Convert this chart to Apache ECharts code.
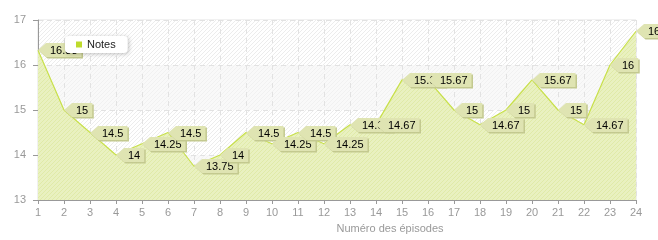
<!DOCTYPE html>
<html><head><meta charset="utf-8">
<script src="https://cdn.jsdelivr.net/npm/echarts@6/dist/echarts.min.js"></script>
<style>html,body{margin:0;padding:0;background:#fff}#c{width:658px;height:240px}</style>
</head><body><div id="c"></div>
<script>
const categories = ['1','2','3','4','5','6','7','8','9','10','11','12','13','14','15','16','17','18','19','20','21','22','23','24'];
const notes = [16.33, 15, 14.5, 14, 14.25, 14.5, 13.75, 14, 14.5, 14.25, 14.5, 14.25, 14.67, 14.67, 15.67, 15.67, 15, 14.67, 15, 15.67, 15, 14.67, 16, 16.75];
const seriesName = 'Notes';
const xName = 'Numéro des épisodes';
const yTicks = [13, 14, 15, 16, 17];

const FONT = '11px "Liberation Sans", Arial, sans-serif';

function hatch(bg, line) {
  const c = document.createElement('canvas');
  c.width = 4; c.height = 4;
  const g = c.getContext('2d');
  g.fillStyle = bg; g.fillRect(0, 0, 4, 4);
  g.strokeStyle = line; g.lineWidth = 1;
  g.beginPath();
  g.moveTo(0, 4); g.lineTo(4, 0);
  g.moveTo(-1, 1); g.lineTo(1, -1);
  g.moveTo(3, 5); g.lineTo(5, 3);
  g.stroke();
  return { image: c, repeat: 'repeat' };
}
const bandA = hatch('#ffffff', '#ececec');
const bandB = hatch('#f9f9f9', '#f1f1f1');
const areaFill = hatch('#e9f1c0', '#e0eaa8');

const mctx = document.createElement('canvas').getContext('2d');
mctx.font = FONT;

const chart = echarts.init(document.getElementById('c'), null, { renderer: 'canvas' });
chart.setOption({
  animation: false,
  grid: { left: 38, right: 22, top: 20, bottom: 40, show: true, borderColor: '#e2e2e2', borderWidth: 1, backgroundColor: 'transparent' },
  legend: {
    data: [seriesName], left: 65, top: 36, padding: [3, 12, 3, 11],
    backgroundColor: '#fff', borderRadius: 4, shadowBlur: 4, shadowColor: 'rgba(0,0,0,0.25)', shadowOffsetX: 1, shadowOffsetY: 1,
    itemWidth: 6, itemHeight: 6, icon: 'rect', itemGap: 5,
    textStyle: { fontFamily: '"Liberation Sans", Arial, sans-serif', fontSize: 11, color: '#222' }, z: 10
  },
  xAxis: {
    type: 'category', data: categories, boundaryGap: false,
    name: xName, nameLocation: 'middle', nameGap: 23,
    nameTextStyle: { color: '#999', fontFamily: '"Liberation Sans", Arial, sans-serif', fontSize: 11, padding: [0, 0, 0, 106] },
    axisLine: { lineStyle: { color: '#999' } },
    axisTick: { show: true, length: 4, lineStyle: { color: '#999' }, alignWithLabel: true },
    axisLabel: { color: '#999', fontFamily: '"Liberation Sans", Arial, sans-serif', fontSize: 11, margin: 7 },
    splitLine: { show: true, lineStyle: { color: '#e2e2e2', type: [5, 4] } }
  },
  yAxis: {
    type: 'value', min: yTicks[0], max: yTicks[yTicks.length - 1], interval: 1,
    axisLine: { show: true, lineStyle: { color: '#999' } },
    axisTick: { show: true, length: 5, lineStyle: { color: '#999' } },
    axisLabel: { color: '#999', fontFamily: '"Liberation Sans", Arial, sans-serif', fontSize: 11, margin: 12 },
    splitLine: { show: true, lineStyle: { color: '#e2e2e2', type: [5, 4] } },
    splitArea: { show: true, areaStyle: { color: [bandB, bandA, bandB, bandA] } }
  },
  series: [
    {
      name: seriesName, type: 'line', data: notes, symbol: 'none',
      color: '#bedb2c',
      lineStyle: { color: '#c8e04a', width: 1.2 },
      areaStyle: { color: areaFill, opacity: 1, origin: 'start' },
      z: 2
    },
    {
      name: 'labels', type: 'custom', clip: false, z: 5,
      data: notes.map((v, i) => [i, v]),
      encode: { x: 0, y: 1 },
      renderItem: function (params, api) {
        const i = api.value(0), v = api.value(1);
        const p = api.coord([i, v]);
        const txt = String(v);
        const tw = mctx.measureText(txt).width;
        const aw = 8, h = 14, padL = 4, padR = 4;
        const x0 = Math.round(p[0]), y0 = Math.round(p[1]);
        const bx = x0 + aw, bw = tw + padL + padR;
        const pts = [[x0, y0], [bx, y0 - h / 2], [bx + bw, y0 - h / 2], [bx + bw, y0 + h / 2], [bx, y0 + h / 2]];
        return {
          type: 'group',
          children: [
            { type: 'polygon', shape: { points: pts.map(q => [q[0] + 1.5, q[1] + 1.5]) }, style: { fill: '#c3c98f' } },
            { type: 'polygon', shape: { points: pts }, style: { fill: '#dfe4b2' } },
            { type: 'text', style: { text: txt, x: bx + padL, y: y0 + 0.5, font: FONT, fill: '#000', verticalAlign: 'middle', align: 'left' } }
          ]
        };
      }
    }
  ]
});
</script>
</body></html>
